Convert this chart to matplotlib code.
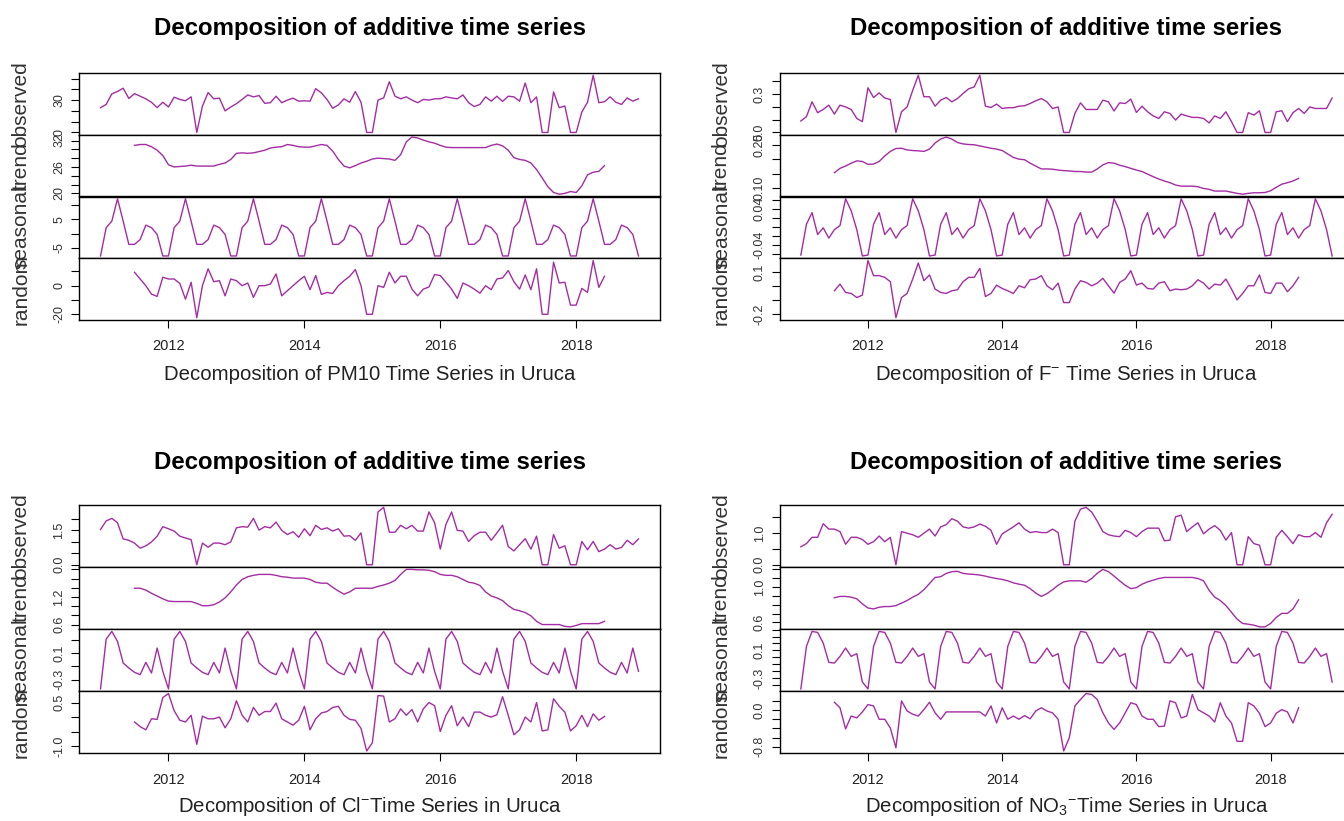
import numpy as np
import matplotlib
matplotlib.use("Agg")
import matplotlib.pyplot as plt
from matplotlib.ticker import FixedLocator, FixedFormatter

plt.rcParams['font.family'] = ['Liberation Sans', 'DejaVu Sans']
plt.rcParams['mathtext.fontset'] = 'custom'
plt.rcParams['mathtext.rm'] = 'Liberation Sans'
plt.rcParams['mathtext.it'] = 'Liberation Sans:italic'
plt.rcParams['mathtext.bf'] = 'Liberation Sans:bold'

# ---------------- data ----------------
START_YEAR = 2011
N_MONTHS = 96
TREND_START = 6          # trend / random undefined for first and last 6 months
YEAR_TICKS = [2012, 2014, 2016, 2018]
COMPONENTS = ["observed", "trend", "seasonal", "random"]
TITLE = "Decomposition of additive time series"

pm10_observed = [23, 26, 35.8, 38, 41, 31.5, 36, 33.6, 31.2, 28, 23, 28,
                 23.6, 32.7, 30.6, 29.4, 33, 0, 24.5, 37, 31.2, 31.8, 20, 23.6,
                 26.7, 30.6, 34.8, 33, 34.2, 27, 27.6, 33.6, 27.6, 30, 31.8, 29,
                 29.4, 29, 40.6, 36.7, 30.6, 22.4, 25.5, 31.2, 28, 37.9, 28, 0,
                 0, 30, 32, 47, 33.6, 31.2, 33, 30, 27.6, 30.6, 30, 31.2,
                 31.2, 33, 32, 31.2, 34.8, 27.6, 24, 26, 33, 29, 33.6, 28.8,
                 33.6, 33, 29, 45.8, 27.6, 33, 0, 0, 37.6, 23, 24.5, 0,
                 0, 19, 28, 53, 27.6, 28.5, 33, 28, 26, 32, 29, 31.2]
pm10_trend = [30.9, 31.1, 31.1, 30.6, 29.8, 28.6, 26.5, 26, 26.1, 26.2, 26.4, 26.2,
              26.2, 26.2, 26.2, 26.6, 26.9, 27.7, 29.1, 29.2, 29.1, 29.2, 29.5, 29.8,
              30.3, 30.5, 30.6, 31.1, 30.9, 30.6, 30.5, 30.5, 30.8, 31.1, 30.9, 29.6,
              27.7, 26.2, 25.8, 26.3, 26.9, 27.3, 27.8, 28, 27.9, 27.8, 27.5, 28.8,
              31.7, 32.8, 32.6, 32.1, 31.7, 31.4, 30.9, 30.5, 30.4, 30.4, 30.4, 30.4,
              30.4, 30.4, 30.4, 30.9, 31.2, 30.8, 29.8, 28.1, 27.7, 27.5, 26.9, 25.4,
              23.5, 21.5, 20.2, 19.8, 20, 20.4, 20.2, 21.7, 24.2, 24.8, 25, 26.3]
pm10_seasonal_cycle = [-7.9, 2.1, 4.4, 12.3, 4.4, -3.8, -3.8, -2.1, 3.0, 2.1, -0.3, -7.9]
pm10_random = [9.4, 4.7, 0, -5.9, -7.5, 5.9, 4.7, 4.7, 1.6, -9.4,
               2.4, -22.4, 0, 11.8, 2.8, 3.5, -7.1, 4.7, 3.5, 0,
               1.9, -8.2, 0, 0, 1.2, 8.2, -7.1, -3.5, 0, 3.5,
               6.6, -2.8, 7.1, -6.1, -4.7, -5.4, 0, 3.5, 6.6, 11.3,
               0, -20, -20, 0, -1.2, 9.4, 1.9, 6.6, 6.6, -2.4,
               -7.1, -2.4, -0.9, 7.8, 7.1, 2.4, -2.4, -8.9, 1.9, 0,
               -2.4, -5.2, 0, -2.8, 4.7, 5.4, 10.6, 2.8, -2.4, 7.5,
               -2.8, 11.8, -20, -20, 16.5, 1.9, 2.4, -13.6, -13.6, -1.9,
               -4.7, 17.6, -1.2, 6.6]

f_observed = [0.09, 0.124, 0.24, 0.155, 0.18, 0.214, 0.144, 0.214, 0.2, 0.18, 0.11, 0.085,
              0.35, 0.274, 0.31, 0.27, 0.258, 0.0, 0.162, 0.2, 0.33, 0.448, 0.28, 0.28,
              0.206, 0.253, 0.274, 0.24, 0.266, 0.305, 0.342, 0.357, 0.448, 0.206, 0.196, 0.222,
              0.188, 0.194, 0.194, 0.206, 0.209, 0.227, 0.248, 0.266, 0.24, 0.188, 0.2, 0.0,
              0.0, 0.149, 0.232, 0.18, 0.18, 0.18, 0.253, 0.24, 0.168, 0.232, 0.227, 0.261,
              0.157, 0.206, 0.162, 0.13, 0.11, 0.162, 0.149, 0.097, 0.144, 0.13, 0.118, 0.118,
              0.11, 0.075, 0.13, 0.11, 0.162, 0.085, 0.0, 0.0, 0.155, 0.136, 0.17, 0.0,
              0.0, 0.162, 0.17, 0.085, 0.155, 0.188, 0.149, 0.2, 0.188, 0.188, 0.188, 0.27]
f_trend = [0.153, 0.168, 0.176, 0.186, 0.194, 0.192, 0.182, 0.183, 0.192, 0.211, 0.227, 0.237,
           0.238, 0.232, 0.230, 0.229, 0.227, 0.235, 0.256, 0.270, 0.277, 0.270, 0.258, 0.253,
           0.251, 0.250, 0.246, 0.242, 0.238, 0.235, 0.230, 0.218, 0.206, 0.200, 0.198, 0.186,
           0.176, 0.166, 0.166, 0.165, 0.162, 0.160, 0.159, 0.157, 0.157, 0.155, 0.155, 0.166,
           0.180, 0.188, 0.186, 0.179, 0.174, 0.168, 0.162, 0.157, 0.148, 0.139, 0.131, 0.124,
           0.118, 0.110, 0.106, 0.106, 0.106, 0.104, 0.098, 0.095, 0.089, 0.089, 0.089, 0.085,
           0.081, 0.078, 0.081, 0.083, 0.083, 0.084, 0.090, 0.102, 0.113, 0.118, 0.124, 0.133]
f_seasonal_cycle = [-0.063, 0.006, 0.032, -0.017, -0.002, -0.025, -0.006, 0.003, 0.063, 0.036, -0.006, -0.065]
f_random = [-0.033, 0.014, -0.045, -0.052, -0.081, -0.064, 0.181, 0.074, 0.074, 0.062,
            0.031, -0.224, -0.081, -0.052, 0.05, 0.164, 0.038, 0.079, -0.021, -0.045,
            -0.052, -0.033, -0.026, 0.031, 0.062, 0.062, 0.126, -0.074, -0.052, 0.007,
            -0.017, -0.033, -0.052, 0.002, -0.012, 0.045, 0.05, 0.074, 0.002, -0.026,
            0.021, -0.117, -0.117, -0.021, 0.038, 0.026, 0.002, 0.021, 0.055, 0.002,
            -0.05, 0.026, 0.05, 0.109, 0.007, 0.021, -0.017, -0.021, 0.021, 0.031,
            -0.033, -0.021, -0.026, -0.021, 0.002, 0.045, 0.021, -0.021, 0.014, 0.007,
            0.05, -0.021, -0.098, -0.052, 0.002, 0.002, 0.079, -0.045, -0.052, 0.021,
            0.021, -0.04, 0.002, 0.062]

cl_observed = [1.53, 1.9, 2.01, 1.82, 1.12, 1.06, 0.94, 0.72, 0.82, 0.99, 1.24, 1.65,
               1.56, 1.46, 1.24, 1.16, 1.09, 0.0, 0.94, 0.76, 0.94, 0.94, 0.87, 0.99,
               1.6, 1.65, 1.63, 2.01, 1.5, 1.65, 1.6, 1.85, 1.49, 1.31, 1.43, 1.19,
               1.56, 1.26, 1.71, 1.53, 1.6, 1.46, 1.56, 1.24, 1.26, 1.06, 1.38, 0.0,
               0.0, 2.29, 2.49, 1.41, 1.41, 1.71, 1.56, 1.71, 1.46, 1.46, 2.29, 1.82,
               0.68, 1.75, 2.29, 1.49, 1.46, 1.01, 1.26, 1.41, 1.41, 1.06, 1.38, 1.71,
               0.79, 0.6, 0.87, 1.13, 0.68, 1.24, 0.0, 0.0, 1.31, 0.72, 0.82, 0.0,
               0.0, 1.01, 0.65, 1.01, 0.57, 0.68, 0.87, 0.68, 0.75, 1.06, 0.87, 1.12]
cl_trend = [1.39, 1.39, 1.35, 1.28, 1.22, 1.16, 1.11, 1.10, 1.10, 1.10, 1.10, 1.06,
            1.01, 1.01, 1.03, 1.09, 1.18, 1.31, 1.46, 1.58, 1.64, 1.67, 1.69, 1.69,
            1.69, 1.67, 1.64, 1.63, 1.61, 1.61, 1.61, 1.58, 1.52, 1.50, 1.50, 1.41,
            1.33, 1.26, 1.31, 1.39, 1.39, 1.39, 1.39, 1.43, 1.46, 1.50, 1.56, 1.69,
            1.80, 1.80, 1.79, 1.79, 1.78, 1.75, 1.69, 1.67, 1.67, 1.64, 1.58, 1.52,
            1.50, 1.45, 1.31, 1.22, 1.18, 1.12, 1.01, 0.93, 0.90, 0.86, 0.79, 0.67,
            0.60, 0.60, 0.60, 0.60, 0.56, 0.55, 0.58, 0.62, 0.62, 0.62, 0.62, 0.67]
cl_seasonal_cycle = [-0.44, 0.31, 0.425, 0.275, -0.05, -0.125, -0.19, -0.225, -0.04, -0.2, 0.175, -0.175]
cl_random = [-0.17, -0.33, -0.44, -0.06, -0.08, 0.67, 0.81, 0.22, -0.11, -0.17,
             0.06, -0.94, 0.03, -0.06, -0.06, 0.0, -0.37, -0.06, 0.56, 0.06,
             -0.17, 0.33, 0.06, 0.19, 0.19, 0.48, -0.06, -0.17, -0.28, -0.11,
             0.37, -0.44, -0.06, 0.14, 0.19, 0.33, 0.37, 0.06, -0.08, -0.11,
             -0.39, -1.17, -0.89, 0.74, 0.72, -0.17, -0.06, 0.28, 0.06, 0.26,
             -0.17, 0.28, 0.5, 0.39, -0.5, 0.06, 0.39, -0.3, 0.0, -0.33,
             0.17, 0.17, 0.06, 0.0, 0.08, 0.7, 0.06, -0.61, -0.44, 0.0,
             -0.17, 0.5, -0.48, -0.44, 0.63, 0.37, 0.17, -0.48, -0.3, 0.06,
             -0.33, 0.11, -0.11, 0.02]

no3_observed = [0.57, 0.67, 0.87, 0.87, 1.3, 1.13, 1.13, 1.05, 0.65, 0.87, 0.87, 0.8,
                0.65, 0.73, 0.91, 0.73, 0.87, 0.0, 1.05, 1.0, 0.95, 0.87, 1.0, 1.13,
                0.91, 1.2, 1.27, 1.46, 1.38, 1.2, 1.16, 1.2, 1.29, 1.22, 1.09, 0.65,
                0.98, 1.09, 1.2, 1.33, 1.13, 1.02, 1.05, 1.02, 1.02, 1.13, 1.02, 0.0,
                0.0, 1.38, 1.76, 1.82, 1.67, 1.38, 1.05, 0.95, 0.91, 0.89, 1.09, 1.02,
                0.89, 1.05, 1.16, 1.16, 1.16, 0.76, 0.78, 1.52, 1.57, 1.05, 1.2, 1.33,
                0.98, 1.13, 1.24, 1.09, 0.78, 1.02, 0.0, 0.0, 0.89, 0.67, 0.62, 0.0,
                0.0, 0.87, 1.09, 0.89, 0.67, 0.95, 0.89, 0.89, 1.02, 0.87, 1.33, 1.6]
no3_trend = [0.878, 0.893, 0.893, 0.885, 0.866, 0.809, 0.763, 0.752, 0.771, 0.779, 0.779, 0.790,
             0.817, 0.847, 0.885, 0.916, 0.969, 1.038, 1.107, 1.115, 1.153, 1.172, 1.176, 1.153,
             1.145, 1.141, 1.134, 1.122, 1.107, 1.095, 1.084, 1.069, 1.046, 1.031, 1.019, 0.981,
             0.931, 0.893, 0.924, 0.969, 1.019, 1.057, 1.069, 1.069, 1.069, 1.053, 1.095, 1.153,
             1.198, 1.172, 1.122, 1.069, 1.019, 0.981, 0.992, 1.031, 1.057, 1.076, 1.095, 1.107,
             1.107, 1.107, 1.107, 1.107, 1.107, 1.095, 1.069, 0.962, 0.885, 0.847, 0.790, 0.714,
             0.637, 0.588, 0.580, 0.569, 0.550, 0.550, 0.588, 0.656, 0.702, 0.702, 0.752, 0.855]
no3_seasonal_cycle = [-0.46, 0.158, 0.375, 0.361, 0.206, -0.074, -0.084, 0.013, 0.134, 0.013, 0.052, -0.36]
no3_random = [0.17, 0.05, -0.41, -0.13, -0.17, -0.04, 0.12, 0.09, -0.2, -0.2,
              -0.39, -0.82, 0.2, -0.02, -0.09, -0.13, 0.01, 0.17, -0.06, -0.2,
              -0.04, -0.04, -0.04, -0.04, -0.04, -0.04, -0.04, -0.13, 0.09, -0.28,
              0.05, -0.2, -0.13, -0.2, -0.12, -0.19, -0.02, 0.05, -0.02, -0.06,
              -0.2, -0.89, -0.6, 0.09, 0.23, 0.36, 0.34, 0.23, -0.06, -0.28,
              -0.42, -0.28, -0.06, 0.16, 0.12, -0.13, -0.2, -0.2, -0.36, -0.35,
              0.2, 0.16, -0.17, -0.13, 0.34, 0.01, -0.06, -0.13, -0.26, 0.16,
              -0.13, -0.28, -0.68, -0.68, 0.16, 0.09, -0.07, -0.36, -0.28, -0.07,
              0.01, -0.04, -0.28, 0.05]

PANELS = [
    dict(obs=pm10_observed, trend=pm10_trend, seas=pm10_seasonal_cycle, rand=pm10_random,
         xlabel="Decomposition of PM10 Time Series in Uruca",
         ticks=[([0, 10, 20, 30, 40, 50], {0: "0", 30: "30"}),
                ([20, 22, 24, 26, 28, 30, 32], {20: "20", 26: "26", 32: "32"}),
                ([-5, 0, 5, 10], {-5: "-5", 5: "5"}),
                ([-20, -10, 0, 10], {-20: "-20", 0: "0"})]),
    dict(obs=f_observed, trend=f_trend, seas=f_seasonal_cycle, rand=f_random,
         xlabel=r"Decomposition of $\mathregular{F^{-}}$ Time Series in Uruca",
         ticks=[([0.0, 0.1, 0.2, 0.3, 0.4], {0.0: "0.0", 0.3: "0.3"}),
                ([0.10, 0.15, 0.20, 0.25], {0.10: "0.10", 0.25: "0.25"}),
                ([-0.06, -0.04, -0.02, 0.0, 0.02, 0.04, 0.06], {-0.04: "-0.04", 0.04: "0.04"}),
                ([-0.2, -0.1, 0.0, 0.1], {-0.2: "-0.2", 0.1: "0.1"})]),
    dict(obs=cl_observed, trend=cl_trend, seas=cl_seasonal_cycle, rand=cl_random,
         xlabel=r"Decomposition of $\mathregular{Cl^{-}}$Time Series in Uruca",
         ticks=[([0.0, 0.5, 1.0, 1.5, 2.0], {0.0: "0.0", 1.5: "1.5"}),
                ([0.6, 0.8, 1.0, 1.2, 1.4, 1.6, 1.8], {0.6: "0.6", 1.2: "1.2"}),
                ([-0.3, -0.1, 0.1, 0.3], {-0.3: "-0.3", 0.1: "0.1"}),
                ([-1.0, -0.5, 0.0, 0.5], {-1.0: "-1.0", 0.5: "0.5"})]),
    dict(obs=no3_observed, trend=no3_trend, seas=no3_seasonal_cycle, rand=no3_random,
         xlabel=r"Decomposition of $\mathregular{NO_3{}^{-}}$Time Series in Uruca",
         ticks=[([0.0, 0.5, 1.0, 1.5], {0.0: "0.0", 1.0: "1.0"}),
                ([0.6, 0.7, 0.8, 0.9, 1.0, 1.1, 1.2], {0.6: "0.6", 1.0: "1.0"}),
                ([-0.4, -0.3, -0.2, -0.1, 0.0, 0.1, 0.2, 0.3, 0.4], {-0.3: "-0.3", 0.1: "0.1"}),
                ([-0.8, -0.6, -0.4, -0.2, 0.0, 0.2], {-0.8: "-0.8", 0.0: "0.0"})]),
]

# ---------------- layout (pixels) ----------------
W, H = 1344, 821
LINE_COLOR = "#A42CA4"
BOXES = [  # x0, x1, ytop, ybottom, title_y, xlabel_y
    (79, 660, 73, 320, 28, 374),
    (779.6, 1353.4, 73, 320, 28, 374),
    (79, 660, 505, 753.3, 462, 806),
    (779.6, 1353.4, 505, 753.3, 462, 806),
]

fig = plt.figure(figsize=(W / 100, H / 100), dpi=100)

t_all = START_YEAR + np.arange(N_MONTHS) / 12.0
x_pad = 0.04 * (t_all[-1] - t_all[0])

for panel, (x0, x1, yt, yb, title_y, xlab_y) in zip(PANELS, BOXES):
    n_tr = len(panel["trend"])
    t_tr = t_all[TREND_START:TREND_START + n_tr]
    seasonal = np.tile(panel["seas"], N_MONTHS // 12)
    series = [(t_all, np.array(panel["obs"], float)),
              (t_tr, np.array(panel["trend"], float)),
              (t_all, seasonal),
              (t_tr, np.array(panel["rand"], float))]
    sub_h = (yb - yt) / 4.0
    for k, ((tx, ty), comp, (tks, lbls)) in enumerate(zip(series, COMPONENTS, panel["ticks"])):
        top = yt + k * sub_h
        ax = fig.add_axes([x0 / W, 1 - (top + sub_h) / H, (x1 - x0) / W, sub_h / H])
        ax.plot(tx, ty, color=LINE_COLOR, lw=1.0)
        lo, hi = np.min(ty), np.max(ty)
        pad = 0.04 * (hi - lo)
        ax.set_ylim(lo - pad, hi + pad)
        ax.set_xlim(t_all[0] - x_pad, t_all[-1] + x_pad)
        ax.yaxis.set_major_locator(FixedLocator(tks))
        ax.yaxis.set_major_formatter(FixedFormatter([lbls.get(v, "") for v in tks]))
        ax.tick_params(axis="y", direction="out", length=6, width=0.8,
                       labelsize=9, labelrotation=90, pad=4, labelcolor="#333333")
        for lab in ax.get_yticklabels():
            lab.set_va("center")
        for s in ax.spines.values():
            s.set_linewidth(1.0)
        if k < 3:
            ax.tick_params(axis="x", bottom=False, labelbottom=False)
        else:
            ax.xaxis.set_major_locator(FixedLocator(YEAR_TICKS))
            ax.set_xticklabels([str(y) for y in YEAR_TICKS])
            ax.tick_params(axis="x", direction="out", length=6, width=0.8,
                           labelsize=10.5, pad=8, labelcolor="#222222")
        fig.text((x0 - 58) / W, 1 - (top + sub_h / 2) / H, comp, rotation=90,
                 ha="center", va="center", fontsize=15, color="#333333")
    cx = (x0 + x1) / 2
    fig.text(cx / W, 1 - title_y / H, TITLE, ha="center", va="center",
             fontsize=17.3, fontweight="bold")
    fig.text(cx / W, 1 - xlab_y / H, panel["xlabel"], ha="center", va="center",
             fontsize=14.7, color="#222222")

fig.savefig("out.png", dpi=100)
